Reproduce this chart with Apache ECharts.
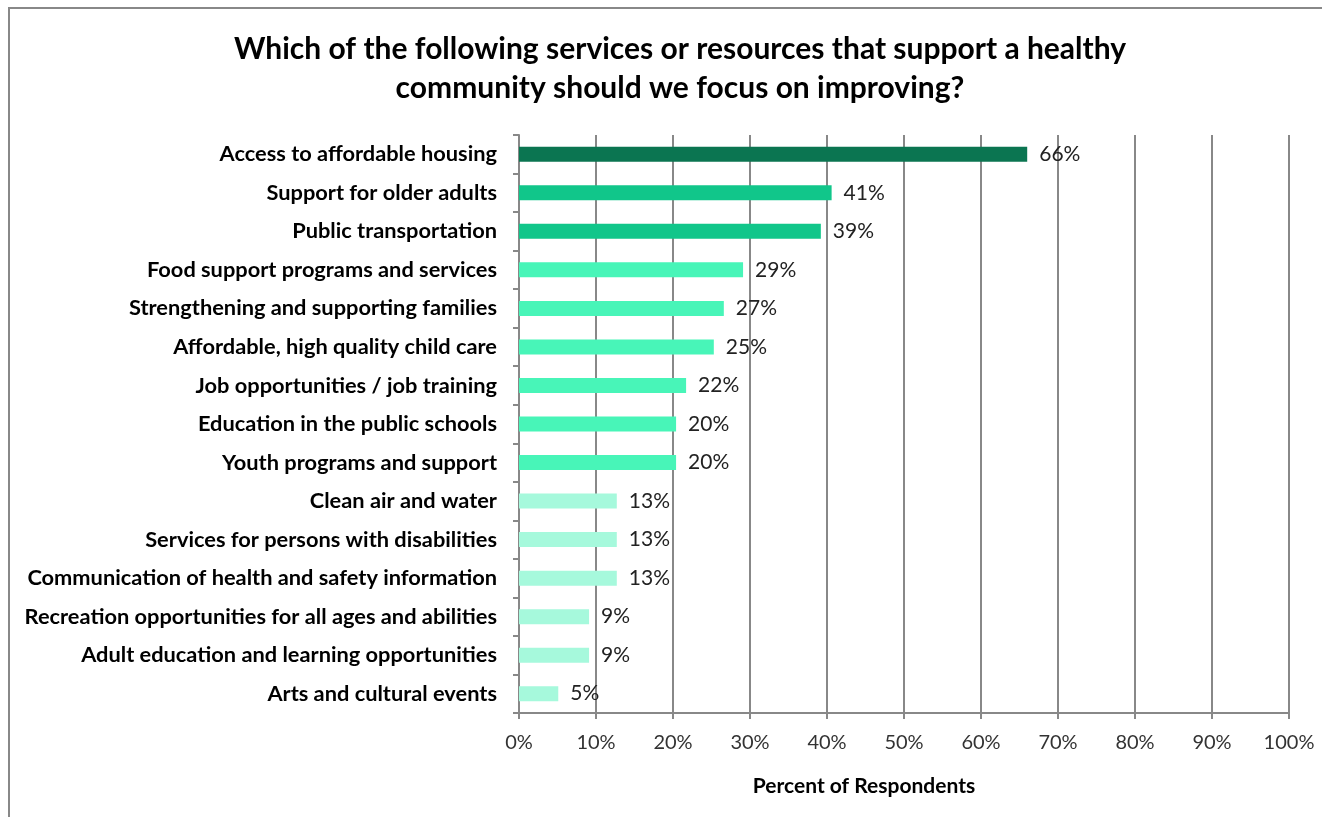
<!DOCTYPE html>
<html><head><meta charset="utf-8">
<script src="https://cdn.jsdelivr.net/npm/echarts@6/dist/echarts.min.js"></script>
<style>html,body{margin:0;padding:0;background:#fff}#c{width:1322px;height:817px}</style>
</head><body><div id="c"></div>
<script>
const titleText = 'Which of the following services or resources that support a healthy\ncommunity should we focus on improving?';
const categories = [
  'Access to affordable housing',
  'Support for older adults',
  'Public transportation',
  'Food support programs and services',
  'Strengthening and supporting families',
  'Affordable, high quality child care',
  'Job opportunities / job training',
  'Education in the public schools',
  'Youth programs and support',
  'Clean air and water',
  'Services for persons with disabilities',
  'Communication of health and safety information',
  'Recreation opportunities for all ages and abilities',
  'Adult education and learning opportunities',
  'Arts and cultural events'
];
const values = [66, 40.6, 39.2, 29.1, 26.6, 25.3, 21.7, 20.4, 20.4, 12.7, 12.7, 12.7, 9.1, 9.1, 5.1];
const valueLabels = ['66%','41%','39%','29%','27%','25%','22%','20%','20%','13%','13%','13%','9%','9%','5%'];
const tiers = [0,1,1,2,2,2,2,2,2,3,3,3,3,3,3];
const tierColors = ['#0B7551','#11C68A','#48F5B8','#A6F9DC'];
const xTicks = [0,10,20,30,40,50,60,70,80,90,100];
const xName = 'Percent of Respondents';

const FONT = 'Lato';
const chart = echarts.init(document.getElementById('c'), null, {renderer:'canvas'});
chart.setOption({
  animation:false,
  backgroundColor:'#fff',
  title:{text:titleText,left:675,top:25,textAlign:'center',
    textStyle:{fontFamily:FONT,fontWeight:'bold',fontSize:30,color:'#000',lineHeight:39}},
  graphic:[
    {type:'rect',shape:{x:9,y:8,width:1340,height:840},style:{fill:null,stroke:'#888',lineWidth:2},silent:true},
    {type:'text',x:864,y:786,style:{text:xName,fontFamily:FONT,fontWeight:'bold',fontSize:21,fill:'#000',align:'center',verticalAlign:'middle'}}
  ],
  grid:{left:519,right:33,top:135,bottom:104,containLabel:false},
  xAxis:{type:'value',min:0,max:100,interval:10,
    axisLine:{show:true,lineStyle:{color:'#888',width:2}},
    axisTick:{show:true,length:6,lineStyle:{color:'#888',width:2}},
    splitLine:{show:true,lineStyle:{color:'#888',width:2}},
    axisLabel:{formatter:v=>xTicks.includes(v)?v+'%':'',fontFamily:FONT,fontSize:20,color:'#333',margin:20}},
  yAxis:{type:'category',data:categories,inverse:true,
    axisLine:{show:true,lineStyle:{color:'#888',width:2}},
    axisTick:{show:true,length:6,lineStyle:{color:'#888',width:2}},
    axisLabel:{fontFamily:FONT,fontWeight:'bold',fontSize:21.8,color:'#000',margin:22}},
  series:[{type:'bar',barWidth:15,
    data:values.map((v,i)=>({value:v,itemStyle:{color:tierColors[tiers[i]]}})),
    label:{show:true,position:'right',distance:12,formatter:p=>valueLabels[p.dataIndex],
      fontFamily:FONT,fontSize:21,color:'#222'}}]
});
</script></body></html>
